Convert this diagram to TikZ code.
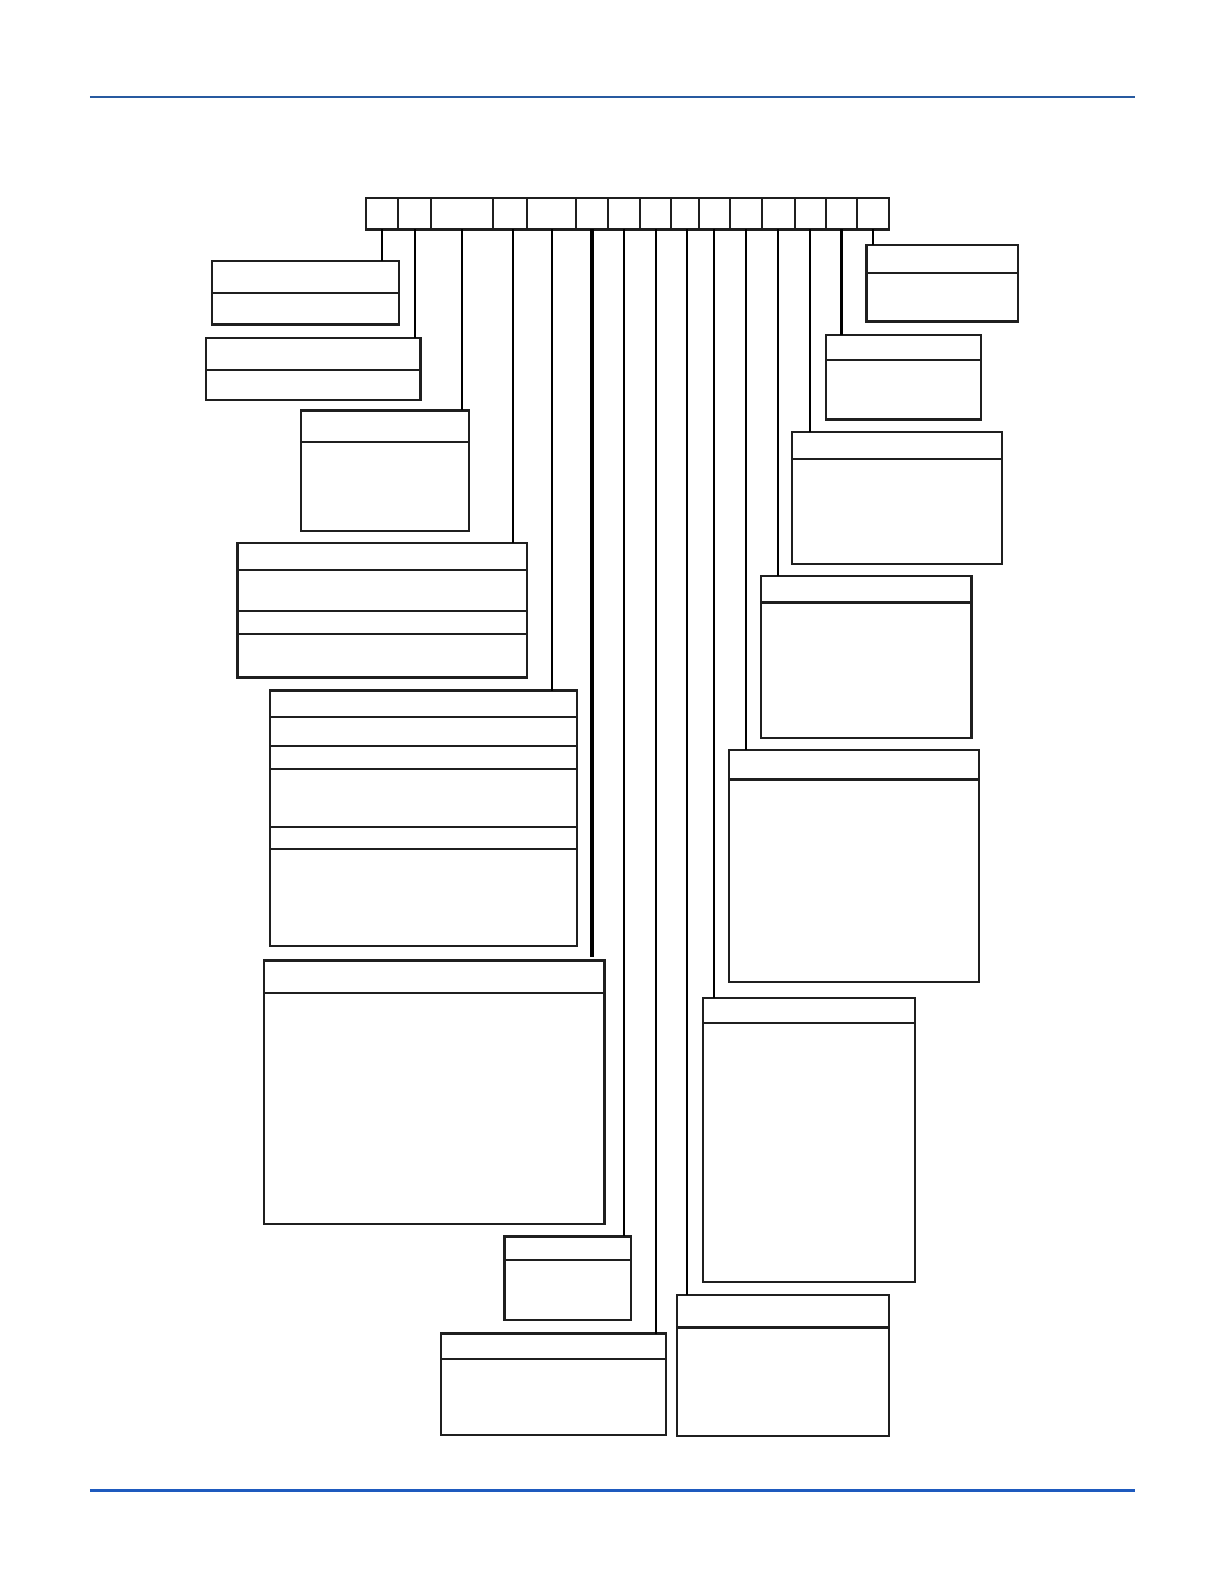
\documentclass[tikz,border=0pt]{standalone}
\begin{document}
\begin{tikzpicture}[x=1.011pt,y=-1.011pt,
  ln/.style={line width=2.2pt,draw=black!88},
  box/.style={ln,anchor=north west,inner sep=0pt,outer sep=0pt},
  cell/.style={ln,anchor=north west,inner sep=0pt,outer sep=0pt,minimum height=31.3},
  stem/.style={line width=2pt,draw=black},
  thickstem/.style={line width=3.4pt,draw=black}]
\useasboundingbox (0pt,0pt) rectangle (1224pt,-1584pt);
% header and footer rules
\draw[line width=1.3pt,draw={rgb,255:red,40;green,90;blue,160}] (89,96) -- (1123,96);
\draw[line width=2.6pt,draw={rgb,255:red,30;green,90;blue,190}] (89,1474) -- (1123,1474);
% code cells
\foreach \i/\a/\b in {1/362/394,2/394/426,3/426/488,4/488/521,5/521/570,6/570/601,7/601/633,8/633/664,9/664/691,10/691/722,11/722/754,12/754/786,13/786/817,14/817/848,15/848/879}
  \node[cell,minimum width={(\b-\a)*1.011}] (c\i) at (\a,196) {};
% boxes
\node[box,minimum width=187,minimum height=63.7] (bA) at (210,258) {};
\node[box,minimum width=214.3,minimum height=62.7] (bB) at (204,334) {};
\node[box,minimum width=167.8,minimum height=120.3] (bC) at (298,406) {};
\node[box,minimum width=289.1,minimum height=134.5] (bD) at (235,537) {};
\node[box,minimum width=307.3,minimum height=255.8] (bE) at (267,683) {};
\node[box,minimum width=340.7,minimum height=263.9] (bF) at (261,950) {};
\node[box,minimum width=126.4,minimum height=83.9] (bG) at (499,1223) {};
\node[box,minimum width=225.5,minimum height=101.1] (bH) at (436,1319) {};
\node[box,minimum width=211.3,minimum height=140.5] (bI) at (670,1281) {};
\node[box,minimum width=212.3,minimum height=284.1] (bJ) at (695,987) {};
\node[box,minimum width=249.7,minimum height=231.5] (bK) at (721,742) {};
\node[box,minimum width=210.3,minimum height=161.8] (bL) at (753,570) {};
\node[box,minimum width=210.3,minimum height=132.4] (bM) at (783,427) {};
\node[box,minimum width=154.7,minimum height=84.9] (bN) at (817,331) {};
\node[box,minimum width=151.7,minimum height=76.8] (bO) at (857,242) {};
% dividers
\foreach \n/\y in {bA/290,bB/366,bC/437,bD/564,bD/604,bD/627,bE/709,bE/738,bE/761,bE/818,bE/840,bF/982,bG/1246,bH/1344,bI/1313,bJ/1012,bK/771,bL/596,bM/454,bN/356,bO/270}
  \draw[ln] (\n.west |- 0,\y) -- (\n.east |- 0,\y);
% stems
\draw[stem] (c1.south) -- (c1.south |- bA.north);
\draw[stem] (c2.south) -- (c2.south |- bB.north);
\draw[stem] (c3.south) -- (c3.south |- bC.north);
\draw[stem] (c4.south) ++(2.5,0) coordinate (s4) -- (s4 |- bD.north);
\draw[stem] (c5.south) -- (c5.south |- bE.north);
\draw[thickstem] (c6.south) -- ([yshift=3pt]c6.south |- bF.north);
\draw[stem] (c7.south) -- (c7.south |- bG.north);
\draw[stem] (c8.south) -- (c8.south |- bH.north);
\draw[stem] (c9.south) ++(2.5,0) coordinate (s9) -- (s9 |- bI.north);
\draw[stem] (c10.south) -- (c10.south |- bJ.north);
\draw[stem] (c11.south) -- (c11.south |- bK.north);
\draw[stem] (c12.south) -- (c12.south |- bL.north);
\draw[stem] (c13.south) -- (c13.south |- bM.north);
\draw[thickstem] (c14.south) -- (c14.south |- bN.north);
\draw[stem] (c15.south) -- (c15.south |- bO.north);
\end{tikzpicture}
\end{document}
